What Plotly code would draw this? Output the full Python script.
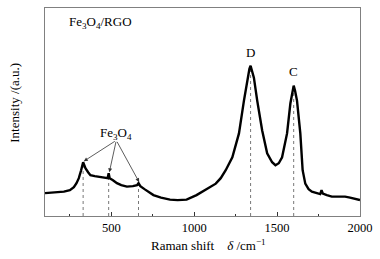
import plotly.graph_objects as go

# Raman spectrum (shift in cm^-1, intensity in a.u.)
shift = [100, 150, 214, 250, 274, 290, 304, 318, 330, 337, 344, 360, 374, 400, 434, 460,
         478, 484, 490, 510, 534, 560, 594, 630, 655, 664, 675, 700, 754, 800, 854, 900,
         954, 1014, 1030, 1080, 1130, 1160, 1190, 1230, 1270, 1300, 1320, 1333, 1340, 1348,
         1360, 1380, 1410, 1440, 1470, 1490, 1510, 1530, 1560, 1580, 1592, 1600, 1608, 1620,
         1640, 1654, 1670, 1690, 1710, 1740, 1760, 1768, 1776, 1800, 1830, 1870, 1910, 1940,
         1970, 2000]
intensity = [23, 23.5, 24.5, 26, 29, 33, 38, 46, 54, 51, 48, 44, 41, 40, 39, 38.5,
             38, 43, 38, 36, 33, 31, 29.5, 30, 31, 33, 30, 27, 21, 18.5, 16.5, 16,
             16.5, 21, 22.5, 27, 32.5, 38, 46, 59, 83, 116, 136, 148, 151, 146,
             139, 116, 86, 63, 54, 51, 53, 59, 83, 113, 127, 131, 126, 116,
             83, 46, 32.5, 27, 24.5, 23, 22, 26, 22.5, 21, 19.5, 19.5, 19.5, 18.5,
             17.5, 16]

# marked peaks (dotted drop lines)
peak_shift = [330, 484, 664, 1340, 1600]
peak_top = [54, 43, 33, 151, 131]

# labels
band_labels = ["D", "C"]
band_x = [1340, 1600]
band_y = [164, 145]

arrow_origin = (530, 76)
arrow_targets = [(334, 55), (488, 44), (668, 34)]

font_family = "Liberation Serif, Times New Roman, serif"

fig = go.Figure()

for sx, top in zip(peak_shift, peak_top):
    fig.add_trace(go.Scatter(x=[sx, sx], y=[0, top], mode="lines",
                             line=dict(color="#555555", width=0.8, dash="dot"),
                             hoverinfo="skip", showlegend=False))

fig.add_trace(go.Scatter(x=shift, y=intensity, mode="lines",
                         line=dict(color="black", width=2.4),
                         showlegend=False))

annotations = []
for tx, ty in arrow_targets:
    annotations.append(dict(x=tx, y=ty, ax=arrow_origin[0], ay=arrow_origin[1],
                            xref="x", yref="y", axref="x", ayref="y",
                            showarrow=True, arrowhead=2, arrowsize=1.0, arrowwidth=0.8,
                            arrowcolor="#333333", text=""))
annotations.append(dict(x=arrow_origin[0], y=arrow_origin[1], xref="x", yref="y",
                        text="Fe<sub>3</sub>O<sub>4</sub>", showarrow=False,
                        yanchor="bottom", yshift=-4,
                        font=dict(family=font_family, size=13, color="black")))
for lab, bx, by in zip(band_labels, band_x, band_y):
    annotations.append(dict(x=bx, y=by, xref="x", yref="y", text=lab, showarrow=False,
                            font=dict(family=font_family, size=13, color="black")))
annotations.append(dict(x=0.07, y=0.93, xref="paper", yref="paper",
                        text="Fe<sub>3</sub>O<sub>4</sub>/RGO", showarrow=False,
                        xanchor="left", yanchor="middle",
                        font=dict(family=font_family, size=13, color="black")))
annotations.append(dict(x=0.52, y=-0.14, xref="paper", yref="paper",
                        text="Raman shift    <i>δ</i> /cm<sup>−1</sup>", showarrow=False,
                        xanchor="center", yanchor="middle",
                        font=dict(family=font_family, size=13, color="black")))
annotations.append(dict(x=-0.095, y=0.545, xref="paper", yref="paper",
                        text="Intensity /(a.u.)", showarrow=False, textangle=-90,
                        xanchor="center", yanchor="middle",
                        font=dict(family=font_family, size=13, color="black")))

fig.update_layout(
    width=380, height=259,
    margin=dict(l=45, r=18, t=7, b=43),
    paper_bgcolor="white", plot_bgcolor="white",
    annotations=annotations,
    font=dict(family=font_family, size=13, color="black"),
    xaxis=dict(range=[100, 2000], tickvals=[500, 1000, 1500, 2000],
               ticks="inside", ticklen=4, tickcolor="#333333", tickwidth=1,
               minor=dict(tickvals=[250, 750, 1250, 1750], ticks="inside", ticklen=2,
                          tickcolor="#333333"),
               showline=True, linecolor="#808080", linewidth=1, mirror=True,
               showgrid=False, zeroline=False, ticklabelstandoff=0,
               tickfont=dict(family=font_family, size=12.5, color="black")),
    yaxis=dict(range=[0, 209], showticklabels=False, ticks="",
               showline=True, linecolor="#808080", linewidth=1, mirror=True,
               showgrid=False, zeroline=False),
)

fig.write_html("out.html", config={"displayModeBar": False},
               post_script="document.body.style.margin='0';document.body.style.overflow='hidden';")
